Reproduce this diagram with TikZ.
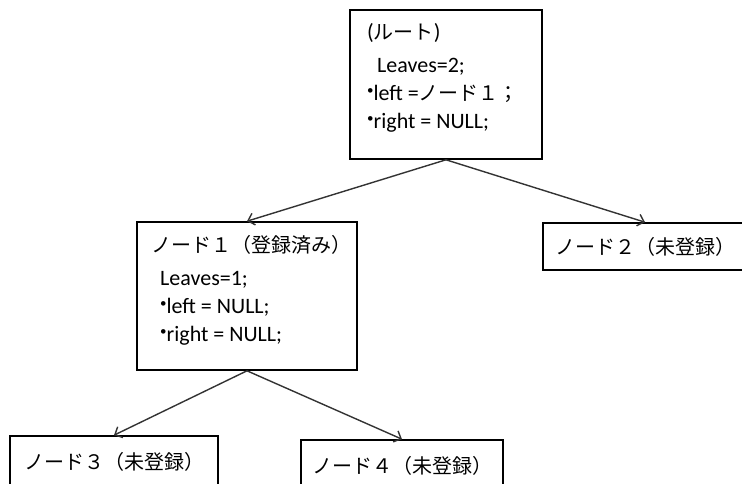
\documentclass[tikz,border=0pt]{standalone}
\usepackage{fontspec}
\setmainfont{Carlito}
\newfontfamily\jpfont{Noto Sans CJK JP}
\usetikzlibrary{arrows.meta}
\newcommand{\jtext}[1]{{\fontsize{20}{28}\selectfont\jpfont #1}}
\newcommand{\bul}{\raisebox{0.25em}{\fontsize{13}{13}\selectfont\textbullet}}

\begin{document}
\begin{tikzpicture}[x=1pt,y=-1pt]
\tikzstyle{box}=[draw=black, line width=1.6pt, inner sep=0pt]
\tikzstyle{info}=[anchor=north west, align=left, inner sep=0pt, font=\fontsize{22}{28}\selectfont]
\tikzstyle{link}=[draw=black!80, line width=1.4pt, -{Straight Barb[length=6pt,width=12pt]}]
\useasboundingbox (0,0) rectangle (742,484);
\node [box, minimum width=192pt, minimum height=149pt] (root) at (446,84.5) {};
\node [info] (rootinfo) at (367,23) {(\jtext{ルート})\\[5pt]
  \hspace*{10pt}Leaves=2;\\
  \bul left =\jtext{ノード１；}\\
  \bul right = NULL;};
\node [box, minimum width=220pt, minimum height=148pt] (n1) at (247,296) {};
\node [info] (n1info) at (151,235) {\jtext{ノード１（登録済み）}\\[5pt]
  \hspace*{9pt}Leaves=1;\\
  \hspace*{9pt}\bul left = NULL;\\
  \hspace*{9pt}\bul right = NULL;};
\node [box, minimum width=204pt, minimum height=47pt] (n2) at (645,246.5) {\jtext{ノード２（未登録）}};
\node [box, minimum width=208pt, minimum height=52pt] (n3) at (114,462) {\jtext{ノード３（未登録）}};
\node [box, minimum width=202pt, minimum height=52pt] (n4) at (402,466) {\jtext{ノード４（未登録）}};
\draw [link] (root.south) -- (n1.north);
\draw [link] (root.south) -- (n2.north);
\draw [link] (n1.south) -- (n3.north);
\draw [link] (n1.south) -- (n4.north);
\end{tikzpicture}
\end{document}
